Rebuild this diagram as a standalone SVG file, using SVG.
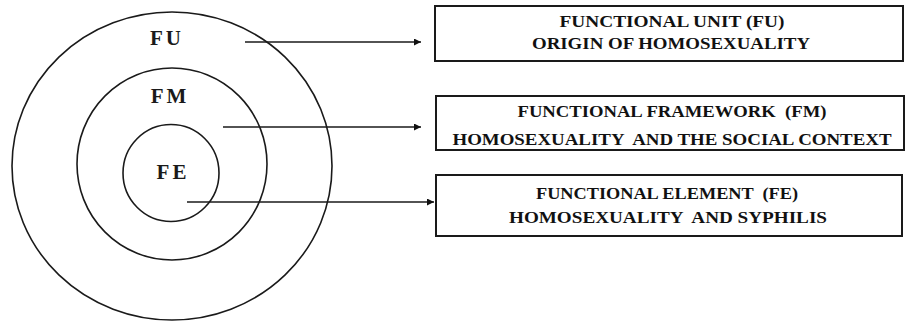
<svg xmlns="http://www.w3.org/2000/svg" width="905" height="322" viewBox="0 0 905 322">
<defs>
<marker id="ah" viewBox="0 0 10 10" refX="10" refY="5" markerWidth="8" markerHeight="7" markerUnits="userSpaceOnUse" orient="auto">
<path d="M0,0 L10,5 L0,10 Z" fill="#111"/>
</marker>
<style>
.ring{fill:none;stroke:#1a1a1a;stroke-width:1.6}
.box{fill:#fff;stroke:#1a1a1a;stroke-width:2}
.lbl{font-family:"Liberation Serif","Times New Roman",serif;font-weight:bold;font-size:21px;fill:#1a1a1a;text-anchor:middle}
.bt{font-family:"Liberation Serif","Times New Roman",serif;font-weight:bold;font-size:16px;fill:#111;text-anchor:middle}
.con{stroke:#1a1a1a;stroke-width:1.6;fill:none}
</style>
</defs>
<rect width="905" height="322" fill="#fff"/>
<g id="ring-fu">
<ellipse class="ring" cx="172" cy="166" rx="160" ry="154"/>
<text class="lbl" x="167" y="45" letter-spacing="3">FU</text>
</g>
<g id="ring-fm">
<ellipse class="ring" cx="172" cy="164" rx="95" ry="96"/>
<text class="lbl" x="170" y="103" letter-spacing="3">FM</text>
</g>
<g id="ring-fe">
<ellipse class="ring" cx="171" cy="173" rx="48" ry="48.5"/>
<text class="lbl" x="173" y="179" letter-spacing="3">FE</text>
</g>
<g id="connectors">
<line class="con" x1="245" y1="42" x2="421" y2="42" marker-end="url(#ah)"/>
<line class="con" x1="223" y1="127" x2="421" y2="127" marker-end="url(#ah)"/>
<line class="con" x1="187" y1="202" x2="434" y2="202" marker-end="url(#ah)"/>
</g>
<g id="box-fu">
<rect class="box" x="435" y="6" width="468" height="55"/>
<text class="bt" x="672" y="27" textLength="225" lengthAdjust="spacingAndGlyphs">FUNCTIONAL UNIT (FU)</text>
<text class="bt" x="671" y="49" textLength="278" lengthAdjust="spacingAndGlyphs">ORIGIN OF HOMOSEXUALITY</text>
</g>
<g id="box-fm">
<rect class="box" x="436" y="96" width="468" height="54"/>
<text class="bt" x="672" y="117" textLength="309" lengthAdjust="spacingAndGlyphs" xml:space="preserve">FUNCTIONAL FRAMEWORK  (FM)</text>
<text class="bt" x="672" y="145" textLength="439" lengthAdjust="spacingAndGlyphs" xml:space="preserve">HOMOSEXUALITY  AND THE SOCIAL CONTEXT</text>
</g>
<g id="box-fe">
<rect class="box" x="436" y="175" width="466" height="61"/>
<text class="bt" x="667" y="199" textLength="262" lengthAdjust="spacingAndGlyphs" xml:space="preserve">FUNCTIONAL ELEMENT  (FE)</text>
<text class="bt" x="668" y="223" textLength="318" lengthAdjust="spacingAndGlyphs" xml:space="preserve">HOMOSEXUALITY  AND SYPHILIS</text>
</g>
</svg>
